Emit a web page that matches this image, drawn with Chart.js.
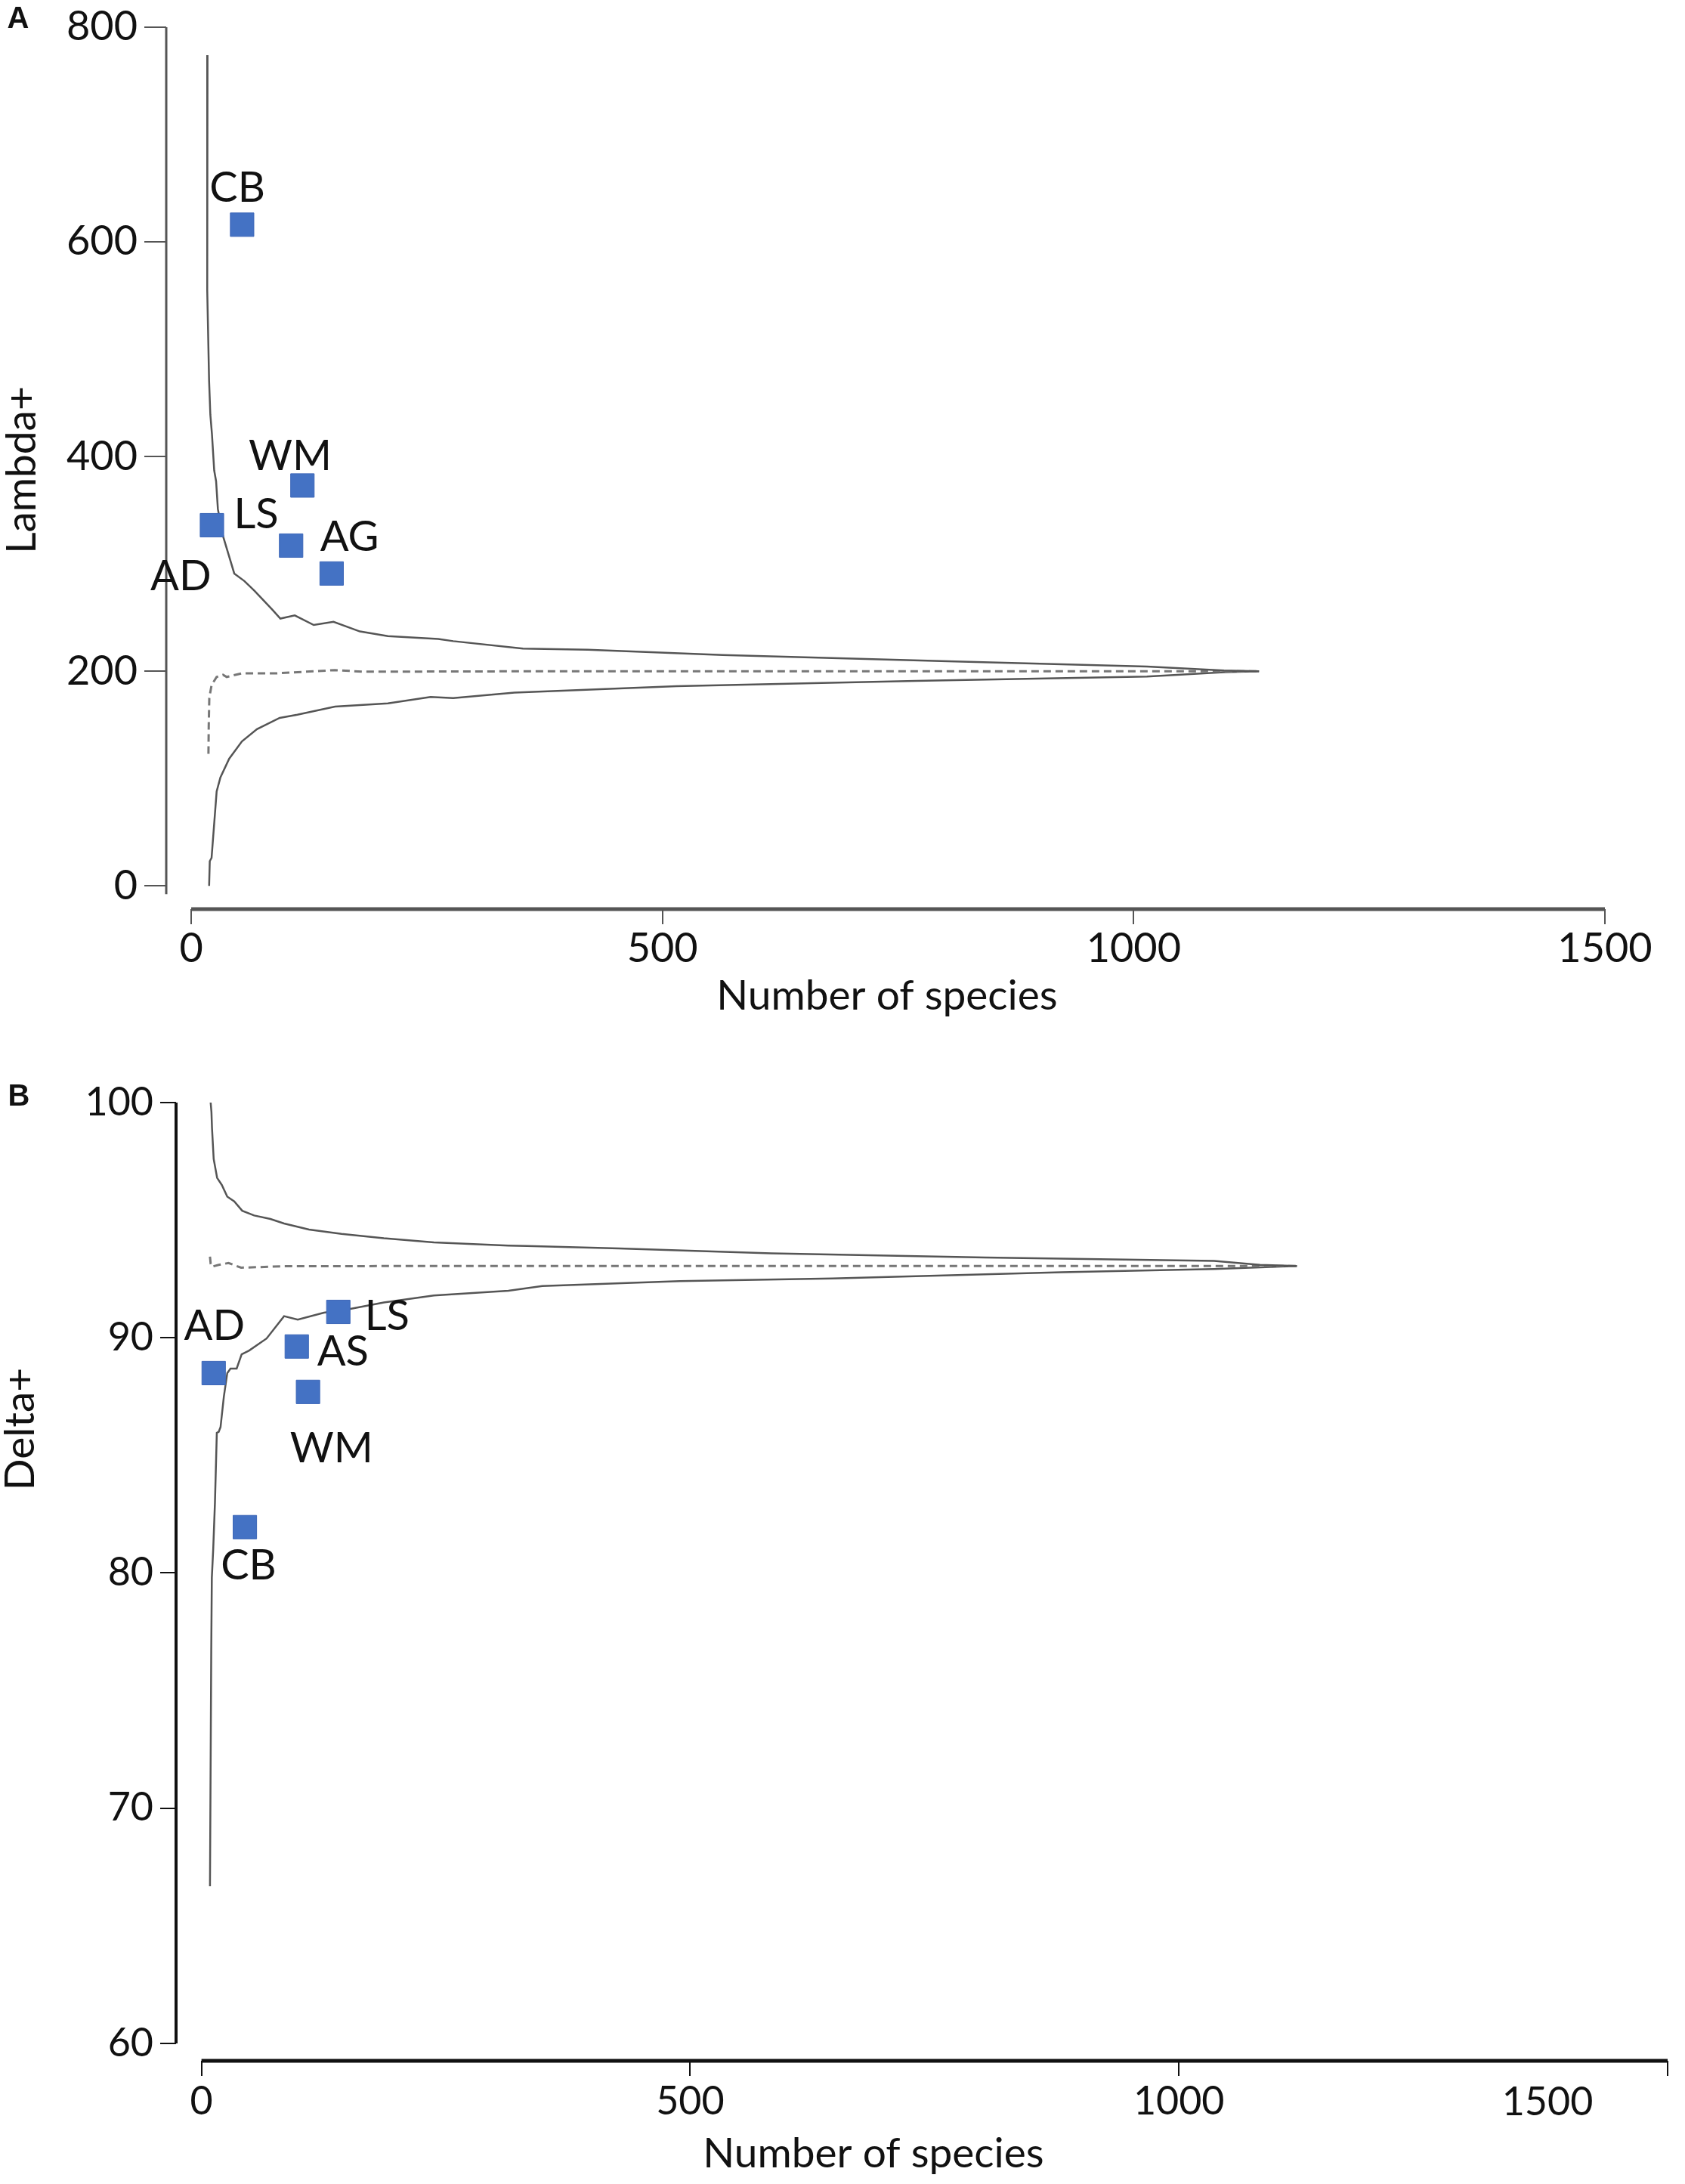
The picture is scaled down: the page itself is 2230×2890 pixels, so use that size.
<!DOCTYPE html>
<html>
<head>
<meta charset="utf-8">
<script src="https://cdn.jsdelivr.net/npm/chart.js@4.4.1/dist/chart.umd.min.js"></script>
<style>
  html, body { margin: 0; padding: 0; background: #fff; }
  #wrap { position: relative; width: 2230px; height: 2890px; }
  canvas { position: absolute; left: 0; }
  #chartA { top: 0; }
  #chartB { top: 1390px; }
</style>
</head>
<body>
<div id="wrap">
  <canvas id="chartA" width="2230" height="1390"></canvas>
  <canvas id="chartB" width="2230" height="1500"></canvas>
</div>
<script>
// ---- shared ----
const xTicks = [0, 500, 1000, 1500];

// ---- Panel A: Lambda+ ----
const lambdaTicks = [0, 200, 400, 600, 800];
const sitesA = ['AD', 'CB', 'LS', 'WM', 'AG'];
const speciesA = [22, 54, 106, 118, 149];
const lambdaA = [336, 616, 317, 373, 291];
const labelXA = [-11, 49, 69, 105, 168];   // where each site name sits (data units)
const labelYA = [288, 650, 346, 400, 325];

const lambdaUpperX = [17.3, 17.0, 19.0, 20.3, 22, 24.4, 26.4, 28.3, 33.7, 45.7, 56.4, 67, 85.8, 94.6, 109.9, 130, 151, 179, 208.7, 262, 278, 352, 421, 564, 810, 1014, 1096, 1133];
const lambdaUpperY = [774, 555, 470, 439, 421, 387, 377, 351, 326, 291, 284, 275, 257.5, 249, 252, 243, 246, 237, 232.6, 230, 228, 221, 220, 215, 209, 204.4, 200.7, 200];
const lambdaMeanX = [18.3, 18.6, 19.2, 21.6, 27, 33.7, 37.7, 53.8, 91, 152.6, 182, 400, 800, 1133];
const lambdaMeanY = [123, 149, 175, 187, 194.6, 196.6, 194.6, 198, 198, 201, 199.5, 200, 200, 200];
const lambdaLowerX = [19, 19.7, 21.6, 27, 31, 40.3, 53.8, 69.8, 93.9, 112.6, 152.6, 208.7, 254, 278, 343, 515, 769, 1014, 1096, 1133];
const lambdaLowerY = [0, 23, 26, 88, 101, 118.5, 134.6, 146, 156.5, 159.5, 167, 170, 176, 175, 180, 186, 191, 195, 199, 200];

// ---- Panel B: Delta+ ----
const deltaTicks = [60, 70, 80, 90, 100];
const sitesB = ['AD', 'CB', 'AS', 'WM', 'LS'];
const speciesB = [12.5, 44.4, 97.5, 109, 140];
const deltaB = [88.5, 81.95, 89.63, 87.7, 91.1];
const labelXB = [13.3, 48.2, 144.7, 133, 190];
const labelYB = [90.48, 80.3, 89.39, 85.3, 90.92];

const deltaUpperX = [9.4, 10.2, 10.8, 12.5, 16, 20.8, 26.4, 33.5, 41.7, 53.9, 70.5, 84.5, 110, 143.3, 186.6, 237.7, 314, 333, 427, 583, 801.6, 1036, 1083, 1120.7];
const deltaUpperY = [100, 99.6, 98.9, 97.6, 96.8, 96.5, 96.0, 95.8, 95.4, 95.2, 95.05, 94.86, 94.6, 94.42, 94.23, 94.06, 93.92, 93.9, 93.8, 93.59, 93.41, 93.27, 93.1, 93.05];
const deltaMeanX = [8.7, 9.4, 10.5, 17.6, 27.7, 40.6, 84.5, 200, 600, 1120.7];
const deltaMeanY = [93.45, 93.15, 93.02, 93.1, 93.18, 92.98, 93.04, 93.05, 93.05, 93.05];
const deltaLowerX = [8.7, 10, 10.6, 12, 13.8, 15.7, 17.6, 19.5, 22.9, 26.4, 29.7, 36, 41.1, 48.8, 66.6, 84.5, 98.5, 125.3, 148.3, 186.6, 237.7, 314, 348.7, 489.4, 645.6, 880, 1036, 1120.7];
const deltaLowerY = [66.68, 76.7, 79.8, 81.0, 83.0, 85.96, 86.0, 86.2, 87.5, 88.5, 88.69, 88.69, 89.3, 89.46, 89.97, 90.92, 90.77, 91.07, 91.2, 91.5, 91.8, 92.0, 92.2, 92.41, 92.52, 92.79, 92.92, 93.05];

function toPoints(xs, ys) {
  return xs.map((x, i) => ({ x: x, y: ys[i] }));
}

function buildPanel(canvasId, p) {
  // axis lines, site names, axis titles and panel letter
  const decor = {
    id: 'decor',
    afterDraw(chart) {
      const ctx = chart.ctx;
      const area = chart.chartArea;
      const xs = chart.scales.x;
      const ys = chart.scales.y;
      ctx.save();
      ctx.strokeStyle = p.axisColor;
      ctx.lineWidth = p.yAxisWidth;
      ctx.beginPath();
      ctx.moveTo(area.left, ys.getPixelForValue(p.yTicks[p.yTicks.length - 1]));
      ctx.lineTo(area.left, ys.getPixelForValue(p.yTicks[0]) + p.yAxisTail);
      ctx.stroke();
      ctx.lineWidth = p.xAxisWidth;
      ctx.beginPath();
      ctx.moveTo(xs.getPixelForValue(xTicks[0]), area.bottom);
      ctx.lineTo(xs.getPixelForValue(xTicks[xTicks.length - 1]), area.bottom);
      ctx.stroke();

      ctx.fillStyle = '#111';
      ctx.textAlign = 'center';
      ctx.textBaseline = 'middle';
      ctx.font = '56px Lato';
      p.sites.forEach((s, i) => {
        ctx.fillText(s, xs.getPixelForValue(p.labelX[i]), ys.getPixelForValue(p.labelY[i]));
      });

      // last x tick label drawn by hand where the original put it
      if (p.lastTickShift) {
        ctx.font = p.tickSize + 'px Lato';
        ctx.fillText(String(xTicks[xTicks.length - 1]),
          xs.getPixelForValue(xTicks[xTicks.length - 1]) + p.lastTickShift, area.bottom + p.tickLabelDrop);
      }

      ctx.font = '55px Lato';
      ctx.fillText(p.xTitle, p.xTitleAt[0], p.xTitleAt[1]);
      ctx.save();
      ctx.translate(p.yTitleAt[0], p.yTitleAt[1]);
      ctx.rotate(-Math.PI / 2);
      ctx.fillText(p.yTitle, 0, 0);
      ctx.restore();

      ctx.font = 'bold 40px "Liberation Sans"';
      ctx.fillText(p.letter, p.letterAt[0], p.letterAt[1]);
      ctx.restore();
    }
  };

  const lineStyle = { showLine: true, pointRadius: 0, borderColor: '#555', borderWidth: 2.5, fill: false, tension: 0 };

  return new Chart(document.getElementById(canvasId), {
    type: 'scatter',
    data: {
      datasets: [
        {
          label: 'Sites',
          data: toPoints(p.siteX, p.siteY),
          pointStyle: 'rect',
          pointRadius: 22,
          backgroundColor: '#4472c4',
          borderColor: '#3d67b8',
          borderWidth: 1,
          showLine: false
        },
        Object.assign({ label: 'Upper 95% limit', data: toPoints(p.upperX, p.upperY) }, lineStyle),
        Object.assign({ label: 'Mean', data: toPoints(p.meanX, p.meanY) }, lineStyle,
          { borderColor: '#777', borderWidth: 3, borderDash: [10, 6] }),
        Object.assign({ label: 'Lower 95% limit', data: toPoints(p.lowerX, p.lowerY) }, lineStyle)
      ]
    },
    options: {
      responsive: false,
      devicePixelRatio: 1,
      animation: false,
      events: [],
      layout: { padding: { top: p.padTop, right: p.padRight, left: 0, bottom: 0 } },
      plugins: { legend: { display: false }, tooltip: { enabled: false } },
      scales: {
        x: {
          type: 'linear',
          min: p.xMin,
          max: 1500,
          afterBuildTicks: (s) => { s.ticks = xTicks.map(v => ({ value: v })); },
          afterFit: (s) => { s.height = p.xAxisHeight; },
          border: { display: false },
          grid: { drawOnChartArea: false, drawTicks: true, tickLength: 20, color: p.axisColor, lineWidth: 2 },
          ticks: {
            autoSkip: false,
            maxRotation: 0,
            padding: p.tickPadX,
            color: '#111',
            font: { family: 'Lato', size: p.tickSize, lineHeight: 1 },
            callback: (v) => (p.lastTickShift && v === xTicks[xTicks.length - 1]) ? '' : String(v)
          }
        },
        y: {
          type: 'linear',
          min: p.yMin,
          max: p.yTicks[p.yTicks.length - 1],
          afterBuildTicks: (s) => { s.ticks = p.yTicks.map(v => ({ value: v })); },
          afterFit: (s) => { s.width = p.yAxisLeft; },
          border: { display: false },
          grid: { drawOnChartArea: false, drawTicks: true, tickLength: p.yTickLen, color: p.axisColor, lineWidth: 2 },
          ticks: {
            padding: 9,
            color: '#111',
            font: { family: 'Lato', size: p.tickSize, lineHeight: 1 },
            callback: (v) => String(v)
          }
        }
      }
    },
    plugins: [decor]
  });
}

buildPanel('chartA', {
  sites: sitesA, siteX: speciesA, siteY: lambdaA, labelX: labelXA, labelY: labelYA,
  upperX: lambdaUpperX, upperY: lambdaUpperY, meanX: lambdaMeanX, meanY: lambdaMeanY,
  lowerX: lambdaLowerX, lowerY: lambdaLowerY,
  yTicks: lambdaTicks, yMin: -21.7, xMin: -26.5,
  padTop: 30, padRight: 106, xAxisHeight: 187, yAxisLeft: 220, yTickLen: 29,
  tickSize: 54, tickPadX: 6,
  axisColor: '#555', yAxisWidth: 3, xAxisWidth: 5, yAxisTail: 11,
  xTitle: 'Number of species', xTitleAt: [1174, 1318],
  yTitle: 'Lambda+', yTitleAt: [29, 622],
  letter: 'A', letterAt: [24, 26]
});

buildPanel('chartB', {
  sites: sitesB, siteX: speciesB, siteY: deltaB, labelX: labelXB, labelY: labelYB,
  upperX: deltaUpperX, upperY: deltaUpperY, meanX: deltaMeanX, meanY: deltaMeanY,
  lowerX: deltaLowerX, lowerY: deltaLowerY,
  yTicks: deltaTicks, yMin: 59.26, xMin: -26,
  padTop: 69, padRight: 4, xAxisHeight: 163, yAxisLeft: 233, yTickLen: 21,
  tickSize: 52, tickPadX: 8, lastTickShift: -159, tickLabelDrop: 55,
  axisColor: '#111', yAxisWidth: 4, xAxisWidth: 5, yAxisTail: 0,
  xTitle: 'Number of species', xTitleAt: [1156, 1460],
  yTitle: 'Delta+', yTitleAt: [27, 501],
  letter: 'B', letterAt: [25, 62]
});
</script>
</body>
</html>
